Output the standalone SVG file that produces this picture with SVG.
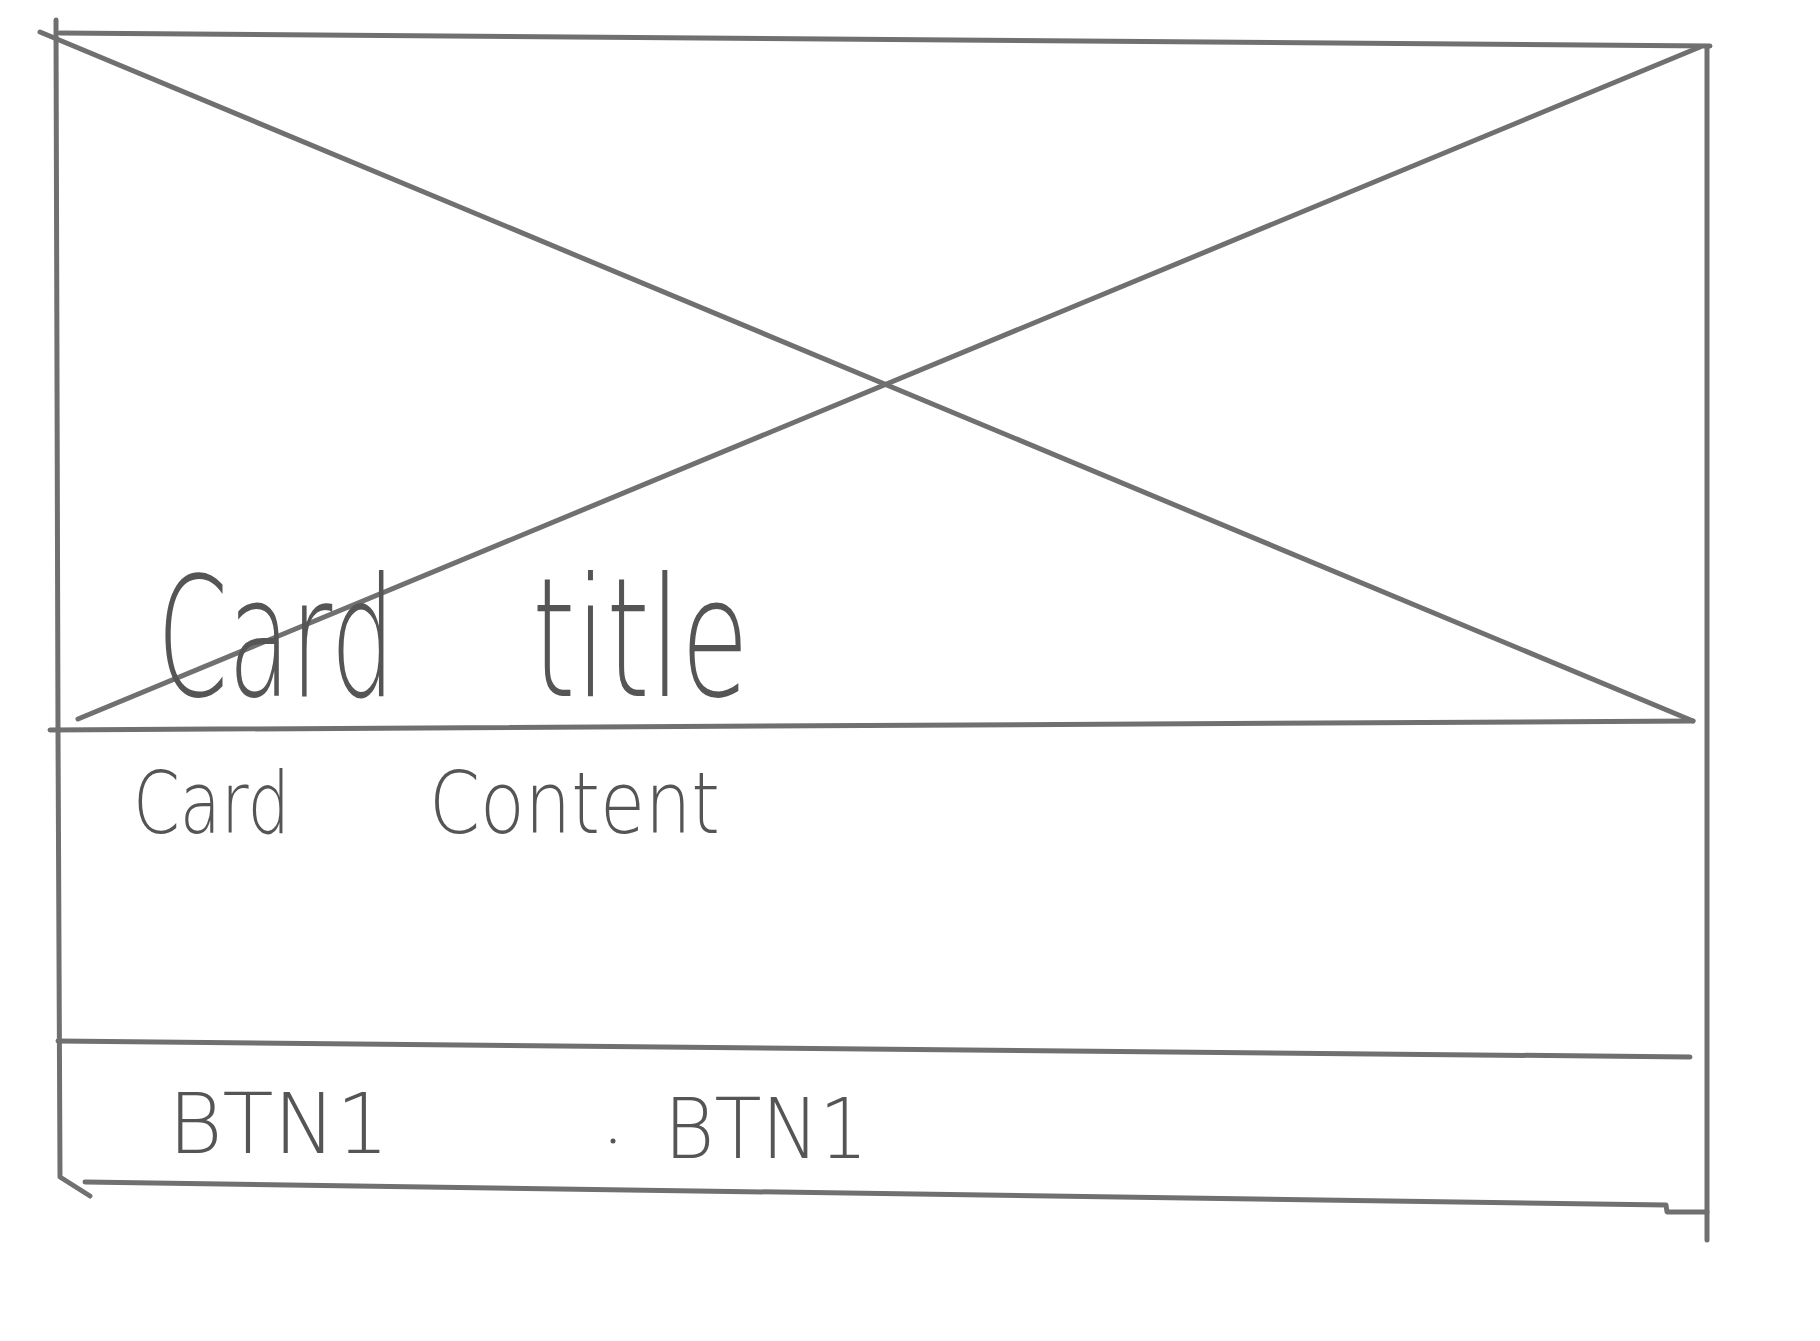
<svg xmlns="http://www.w3.org/2000/svg" width="1820" height="1341" viewBox="0 0 1820 1341">
<style>
.ln{fill:none;stroke:#707070;stroke-width:5;stroke-linecap:round;stroke-linejoin:round}
.hw{font-family:"DejaVu Sans","Liberation Sans",sans-serif;font-weight:200;fill:#555555}
</style>
<rect width="1820" height="1341" fill="#ffffff"/>
<g id="card-frame">
<polyline class="ln" points="60,33 1710,46"/>
<polyline class="ln" points="56,20 58,730 60,1177 90,1196"/>
<polyline class="ln" points="1707,48 1707,1240"/>
<polyline class="ln" points="85,1182 1666,1205 1667,1212 1707,1212"/>
</g>
<g id="image-placeholder">
<polyline class="ln" points="40,32 1693,721"/>
<polyline class="ln" points="1700,47 78,719"/>
<polyline class="ln" points="50,730 1693,721"/>
</g>
<g id="card-title">
<text class="hw" font-size="165" y="696"><tspan x="157" textLength="238" lengthAdjust="spacingAndGlyphs">Card</tspan> <tspan x="532" textLength="217" lengthAdjust="spacingAndGlyphs">title</tspan></text>
</g>
<g id="card-content">
<text class="hw" font-size="86" y="833"><tspan x="133" textLength="157" lengthAdjust="spacingAndGlyphs">Card</tspan> <tspan x="429" textLength="291" lengthAdjust="spacingAndGlyphs">Content</tspan></text>
</g>
<g id="actions">
<polyline class="ln" points="58,1041 1690,1057"/>
<text class="hw" font-size="84" x="168" y="1153" textLength="221" lengthAdjust="spacingAndGlyphs">BTN1</text>
<circle cx="613" cy="1141" r="2.5" fill="#555555"/>
<text class="hw" font-size="84" x="664" y="1158" textLength="204" lengthAdjust="spacingAndGlyphs">BTN1</text>
</g>
</svg>
